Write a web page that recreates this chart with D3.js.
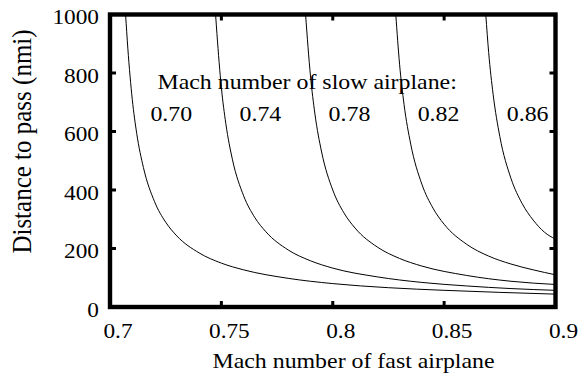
<!DOCTYPE html>
<html>
<head>
<meta charset="utf-8">
<script src="https://cdn.jsdelivr.net/npm/d3@7"></script>
<style>
  html, body { margin: 0; padding: 0; background: #fff; }
  svg { display: block; }
  text { font-family: "Liberation Serif", "Times New Roman", serif; fill: #000; }
</style>
</head>
<body>
<svg id="chart" width="581" height="377"></svg>
<script>
// ---- data ----
const slowMach = [0.70, 0.74, 0.78, 0.82, 0.86];
const slowLabels = ["0.70", "0.74", "0.78", "0.82", "0.86"];

const fast070 = [0.7070, 0.708, 0.710, 0.712, 0.715, 0.720, 0.725, 0.730, 0.740, 0.750, 0.760, 0.780, 0.800, 0.825, 0.850, 0.875, 0.900];
const dist070 = [1000, 885, 710, 593, 477, 360, 290, 243, 185, 150, 127, 98, 80, 66, 57, 50, 44];

const fast074 = [0.7474, 0.748, 0.750, 0.752, 0.755, 0.760, 0.765, 0.770, 0.780, 0.790, 0.800, 0.820, 0.840, 0.860, 0.880, 0.900];
const dist074 = [1000, 935, 750, 627, 503, 380, 306, 257, 195, 158, 133, 103, 84, 72, 63, 57];

const fast078 = [0.7878, 0.790, 0.792, 0.795, 0.800, 0.805, 0.810, 0.820, 0.830, 0.840, 0.860, 0.880, 0.900];
const dist078 = [1000, 790, 660, 530, 400, 322, 270, 205, 166, 140, 108, 88, 77];

const fast082 = [0.8283, 0.830, 0.832, 0.835, 0.840, 0.845, 0.850, 0.860, 0.870, 0.880, 0.890, 0.900];
const dist082 = [1000, 830, 693, 557, 420, 338, 283, 215, 174, 147, 127, 110];

const fast086 = [0.8687, 0.870, 0.872, 0.875, 0.880, 0.885, 0.890, 0.895, 0.900];
const dist086 = [1000, 870, 727, 583, 440, 354, 297, 256, 232];

const xTickValues = [0.7, 0.75, 0.8, 0.85, 0.9];
const xTickLabels = ["0.7", "0.75", "0.8", "0.85", "0.9"];
const yTickValues = [0, 200, 400, 600, 800, 1000];
const yTickLabels = ["0", "200", "400", "600", "800", "1000"];

const xTitle = "Mach number of fast airplane";
const yTitle = "Distance to pass (nmi)";
const noteTitle = "Mach number of slow airplane:";

// ---- layout ----
const svg = d3.select("#chart");
const pL = 110, pR = 555.5, pT = 14.5, pB = 307;
const x = d3.scaleLinear().domain([0.7, 0.9]).range([pL, pR]);
const y = d3.scaleLinear().domain([0, 1000]).range([pB, pT]);
const SX = 1.11; // horizontal stretch of the lettering

const series = [
  { fast: fast070, dist: dist070 },
  { fast: fast074, dist: dist074 },
  { fast: fast078, dist: dist078 },
  { fast: fast082, dist: dist082 },
  { fast: fast086, dist: dist086 }
];

svg.append("defs").append("clipPath").attr("id", "plotclip")
  .append("rect").attr("x", pL).attr("y", pT)
  .attr("width", pR - pL).attr("height", pB - pT);

const line = d3.line().x(d => x(d[0])).y(d => y(d[1])).curve(d3.curveMonotoneX);

svg.append("g").attr("clip-path", "url(#plotclip)")
  .selectAll("path").data(series).join("path")
  .attr("d", s => line(s.fast.map((f, i) => [f, s.dist[i]])))
  .attr("fill", "none").attr("stroke", "#000").attr("stroke-width", 1);

// frame
svg.append("rect").attr("x", pL).attr("y", pT)
  .attr("width", pR - pL).attr("height", pB - pT)
  .attr("fill", "none").attr("stroke", "#000").attr("stroke-width", 4.4);

// inward ticks on all four sides
const tickLen = 6;
const innerX = xTickValues.filter(v => v > 0.7 && v < 0.9);
const innerY = yTickValues.filter(v => v > 0 && v < 1000);
const tg = svg.append("g").attr("stroke", "#000").attr("stroke-width", 3);
innerX.forEach(v => {
  tg.append("line").attr("x1", x(v)).attr("x2", x(v)).attr("y1", pB).attr("y2", pB - tickLen);
  tg.append("line").attr("x1", x(v)).attr("x2", x(v)).attr("y1", pT).attr("y2", pT + tickLen);
});
innerY.forEach(v => {
  tg.append("line").attr("y1", y(v)).attr("y2", y(v)).attr("x1", pL).attr("x2", pL + tickLen);
  tg.append("line").attr("y1", y(v)).attr("y2", y(v)).attr("x1", pR).attr("x2", pR - tickLen);
});

function stretchedText(str, px, py, size, anchor, extra) {
  return svg.append("text")
    .attr("transform", `translate(${px},${py}) scale(${SX},1)` + (extra || ""))
    .attr("text-anchor", anchor)
    .attr("font-size", size)
    .text(str);
}

// tick labels
xTickValues.forEach((v, i) => stretchedText(xTickLabels[i], x(v) + 8, 338, 21, "middle"));
yTickValues.forEach((v, i) => stretchedText(yTickLabels[i], 99, y(v) + 9.5, 21, "end"));

// axis titles
stretchedText(xTitle, 353.5, 368, 21.5, "middle");
stretchedText(yTitle, 31, 141.5, 25, "middle", " rotate(-90)");

// annotation
stretchedText(noteTitle, x(0.7885), y(746), 21.5, "middle");
slowMach.forEach((m, i) => stretchedText(slowLabels[i], x(m + 0.0275), y(636), 21.5, "middle"));
</script>
</body>
</html>
